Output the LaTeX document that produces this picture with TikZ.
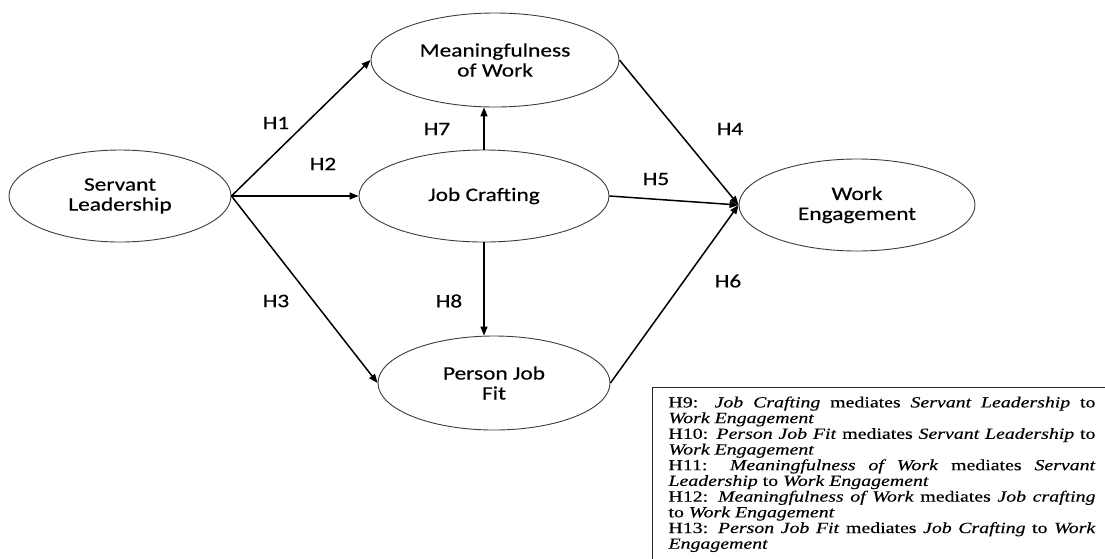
\documentclass[tikz,border=0pt]{standalone}
\definecolor{ovalgray}{RGB}{60,60,60}
\definecolor{framegray}{RGB}{40,40,40}
\usepackage{fontspec}
\newfontfamily\diagfont{Carlito}[FakeStretch=1.23, FakeBold=0.4]
\newfontfamily\legendfont{Liberation Serif}[FakeStretch=1.28, FakeBold=0.3]
\usepackage{tikz}
\usetikzlibrary{arrows.meta, shapes.geometric, positioning}

\begin{document}
\begin{tikzpicture}[x=1pt, y=-1pt, font=\diagfont\fontsize{19}{20}\selectfont,
    construct/.style={ellipse, draw=ovalgray, line width=0.9pt, inner sep=0pt, align=center},
    hypo/.style={-{Triangle[length=9pt,width=7pt]}, line width=1.5pt},
    hlabel/.style={inner sep=0pt}]
        \useasboundingbox (0,0) rectangle (1105,558);
        % constructs
        \node[construct, minimum width=222pt, minimum height=92pt] (sl)  at (120,196) {Servant\\Leadership};
        \node[construct, minimum width=248pt, minimum height=94pt] (mw)  at (495,60)  {Meaningfulness\\of Work};
        \node[construct, minimum width=250pt, minimum height=92pt] (jc)  at (484,196) {Job Crafting};
        \node[construct, minimum width=232pt, minimum height=94pt] (pjf) at (494,383) {Person Job\\Fit};
        \node[construct, minimum width=236pt, minimum height=92pt] (we)  at (857,205) {Work\\Engagement};
        % paths
        \draw[hypo] (sl.east) -- (mw.west);
        \draw[hypo] (sl.east) -- (jc.west);
        \draw[hypo] (sl.east) -- (pjf.west);
        \draw[hypo] (jc.north) -- (jc.north |- mw.south);
        \draw[hypo] (jc.south) -- (jc.south |- pjf.north);
        \draw[hypo] (mw.east) -- (we.west);
        \draw[hypo] (jc.east) -- (we.west);
        \draw[hypo] (pjf.east) -- (we.west);
        % hypothesis labels
        \node[hlabel] (h1) at (276,123) {H1};
        \node[hlabel] (h2) at (323,164) {H2};
        \node[hlabel] (h3) at (276,301) {H3};
        \node[hlabel] (h7) at (437,129) {H7};
        \node[hlabel] (h8) at (449,301) {H8};
        \node[hlabel] (h4) at (730,129) {H4};
        \node[hlabel] (h5) at (656,179) {H5};
        \node[hlabel] (h6) at (728,281) {H6};
        % mediation hypotheses
        \node[draw=framegray, line width=1pt, anchor=north west, inner xsep=16pt, inner ysep=9pt,
              font=\legendfont\fontsize{15.5}{15.7}\selectfont] (legend) at (652,387) {%
          \begin{minipage}[t][175pt][t]{427pt}
          H9: \textit{Job Crafting} mediates \textit{Servant Leadership} to\linebreak
          \textit{Work Engagement}\par
          H10: \textit{Person Job Fit} mediates \textit{Servant Leadership} to\linebreak
          \textit{Work Engagement}\par
          H11: \textit{Meaningfulness of Work} mediates \textit{Servant}\linebreak
          \textit{Leadership} to \textit{Work Engagement}\par
          H12: \textit{Meaningfulness of Work} mediates \textit{Job crafting}\linebreak
          to \textit{Work Engagement}\par
          H13: \textit{Person Job Fit} mediates \textit{Job Crafting} to \textit{Work}\linebreak
          \textit{Engagement}
          \end{minipage}};
      \end{tikzpicture}
\end{document}
